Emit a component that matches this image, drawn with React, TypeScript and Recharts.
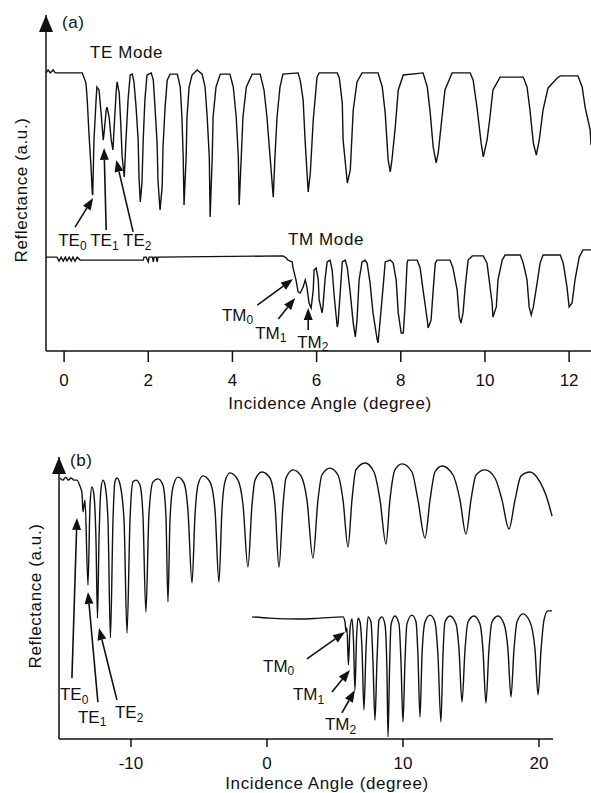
import React from 'react';
import { LineChart, Line, XAxis, YAxis, ReferenceLine, ReferenceDot } from 'recharts';

type P = [number, number];

// ---------- Panel (a): incidence angle (deg) vs reflectance (a.u.) ----------
const teModeA: P[] = [
  [-0.43,92.7],[-0.38,93.7],[-0.33,92.7],[-0.26,93.7],[-0.21,92.7],[0.43,92.7],[0.45,92.0],[0.52,89.3],[0.55,83.7],[0.59,72.7],[0.64,61.3],[0.67,52.7],[0.68,52.0],[0.71,70.3],[0.76,83.7],[0.78,88.0],[0.83,87.0],[0.88,79.3],[0.93,70.3],[0.95,72.7],[1.00,80.3],[1.02,81.3],[1.07,78.0],[1.12,70.3],[1.16,67.0],[1.19,74.7],[1.24,87.0],[1.26,89.7],[1.31,86.0],[1.35,74.7],[1.38,64.7],[1.43,58.0],[1.47,70.3],[1.52,83.7],[1.57,92.0],[1.62,92.3],[1.66,89.7],[1.71,81.3],[1.76,70.3],[1.78,58.0],[1.81,49.7],[1.85,56.0],[1.88,70.3],[1.92,83.7],[1.97,92.0],[2.07,92.7],[2.12,90.3],[2.16,81.3],[2.21,69.3],[2.23,57.0],[2.28,47.0],[2.33,54.7],[2.35,68.0],[2.40,81.3],[2.45,90.3],[2.52,92.3],[2.69,92.3],[2.76,88.0],[2.80,78.0],[2.83,64.7],[2.85,48.7],[2.90,64.7],[2.92,78.0],[2.97,88.0],[3.04,92.0],[3.16,93.7],[3.28,92.3],[3.35,88.0],[3.40,78.0],[3.45,64.7],[3.47,44.7],[3.52,64.7],[3.54,78.0],[3.61,88.0],[3.71,92.3],[3.94,92.3],[4.02,88.0],[4.09,78.0],[4.14,64.7],[4.16,48.7],[4.21,64.7],[4.25,78.0],[4.33,88.0],[4.47,92.3],[4.66,92.3],[4.75,87.0],[4.82,78.0],[4.90,63.7],[4.97,51.3],[5.01,64.7],[5.06,78.0],[5.13,88.0],[5.20,92.3],[5.56,92.7],[5.61,90.3],[5.68,83.7],[5.73,69.3],[5.80,53.0],[5.85,59.3],[5.92,77.0],[6.01,91.3],[6.06,92.7],[6.49,92.7],[6.54,91.0],[6.61,82.7],[6.63,70.3],[6.73,56.0],[6.80,60.3],[6.87,80.3],[6.96,89.7],[7.08,92.7],[7.46,92.7],[7.56,88.0],[7.63,79.3],[7.70,63.7],[7.75,59.7],[7.79,63.7],[7.87,74.7],[7.94,87.0],[8.06,92.0],[8.53,92.7],[8.63,88.0],[8.70,79.3],[8.77,68.0],[8.84,62.7],[8.89,66.0],[8.98,78.0],[9.05,87.0],[9.22,92.7],[9.65,92.7],[9.72,90.3],[9.81,81.3],[9.91,69.3],[9.96,64.7],[10.05,70.3],[10.12,78.0],[10.19,87.0],[10.36,91.3],[10.91,91.3],[11.00,88.0],[11.07,80.3],[11.15,69.3],[11.22,65.3],[11.29,70.3],[11.38,80.3],[11.50,87.7],[11.72,91.0],[11.79,91.7],[12.21,91.7],[12.31,88.0],[12.38,81.3],[12.50,73.7],[12.52,68.7],
];

const tmModeA: P[] = [
  [-0.43,31.3],[-0.17,31.3],[-0.12,30.0],[-0.07,31.3],[-0.02,30.0],[0.03,31.3],[0.07,30.0],[0.12,31.3],[0.17,30.0],[0.21,31.3],[0.26,30.0],[0.31,31.3],[0.38,30.3],[1.88,30.3],[1.90,31.3],[1.95,31.3],[2.00,29.7],[2.02,31.3],[2.10,31.3],[2.12,29.7],[2.14,31.3],[2.19,31.3],[2.21,29.7],[2.23,31.3],[5.20,31.7],[5.28,31.0],[5.32,30.3],[5.42,29.7],[5.44,27.7],[5.51,23.7],[5.56,19.7],[5.61,19.3],[5.68,21.3],[5.73,23.7],[5.77,21.3],[5.82,16.0],[5.87,14.3],[5.92,20.3],[5.94,27.0],[5.99,27.7],[6.04,23.7],[6.06,17.0],[6.13,12.7],[6.15,14.7],[6.20,23.7],[6.25,29.7],[6.32,30.3],[6.37,27.0],[6.42,18.0],[6.49,8.0],[6.51,9.3],[6.56,19.3],[6.61,29.7],[6.68,30.3],[6.73,27.7],[6.80,19.3],[6.87,9.3],[6.92,4.7],[6.96,10.3],[7.01,23.7],[7.08,29.7],[7.15,30.3],[7.20,29.3],[7.27,22.7],[7.34,12.7],[7.44,3.7],[7.46,2.7],[7.51,10.3],[7.58,21.3],[7.63,29.7],[7.75,30.3],[7.82,29.3],[7.89,23.7],[7.94,12.7],[8.01,6.0],[8.06,6.0],[8.10,14.7],[8.15,29.3],[8.17,30.3],[8.39,30.3],[8.46,27.7],[8.53,20.3],[8.63,10.3],[8.65,7.7],[8.72,10.3],[8.77,20.3],[8.82,29.3],[8.86,30.3],[9.17,30.3],[9.24,27.7],[9.34,20.3],[9.39,11.3],[9.43,9.3],[9.48,12.7],[9.53,21.3],[9.60,30.3],[9.70,31.7],[9.96,31.7],[10.05,29.3],[10.10,23.7],[10.17,16.0],[10.19,11.3],[10.27,14.7],[10.31,23.7],[10.41,30.3],[10.48,32.0],[10.84,32.0],[10.91,29.3],[11.00,23.7],[11.05,14.7],[11.10,12.0],[11.15,14.7],[11.24,22.7],[11.31,29.3],[11.38,32.0],[11.79,32.0],[11.86,29.3],[11.95,21.3],[12.00,14.7],[12.07,16.0],[12.14,23.7],[12.24,31.3],[12.33,33.7],[12.52,33.7],
];

// ---------- Panel (b) ----------
const teModeB: P[] = [
  [-15.22,87.0],[-15.0,86.3],[-14.8,87.3],[-14.6,86.3],[-14.4,87.0],[-14.2,86.3],[-13.97,86.3],[-13.75,84.3],[-13.60,82.0],[-13.53,75.7],[-13.38,79.7],[-13.16,51.3],[-13.01,78.0],[-12.87,84.0],[-12.72,81.3],[-12.57,66.3],[-12.46,40.3],[-12.35,66.3],[-12.21,83.0],[-12.06,86.3],[-11.91,84.7],[-11.69,73.0],[-11.51,33.7],[-11.32,73.0],[-11.18,85.7],[-11.03,87.0],[-10.81,85.0],[-10.51,73.0],[-10.29,35.3],[-10.07,73.0],[-9.85,85.7],[-9.63,86.3],[-9.34,84.7],[-9.12,74.7],[-8.90,42.3],[-8.68,74.7],[-8.38,85.7],[-8.01,86.7],[-7.65,84.7],[-7.43,74.7],[-7.28,45.7],[-7.13,73.0],[-6.91,84.0],[-6.54,87.3],[-6.10,85.3],[-5.81,76.3],[-5.51,52.0],[-5.29,74.7],[-5.07,84.7],[-4.71,87.7],[-4.19,85.7],[-3.82,76.3],[-3.53,52.3],[-3.31,76.3],[-3.09,85.7],[-2.72,88.7],[-2.13,86.3],[-1.76,78.0],[-1.40,57.3],[-1.10,78.0],[-0.88,86.3],[-0.37,89.0],[0.22,87.0],[0.59,78.0],[0.88,57.3],[1.18,78.0],[1.40,87.0],[1.91,89.7],[2.50,87.7],[2.94,79.7],[3.38,60.3],[3.75,79.7],[4.04,88.0],[4.63,90.3],[5.22,88.0],[5.59,79.7],[5.96,64.0],[6.25,79.7],[6.54,89.7],[7.21,92.0],[7.87,89.0],[8.31,79.7],[8.75,65.0],[9.04,79.7],[9.41,89.7],[9.93,91.7],[10.66,89.0],[11.10,79.7],[11.62,67.0],[11.99,79.7],[12.35,89.0],[12.87,91.0],[13.68,88.0],[14.19,79.7],[14.63,68.3],[15.00,79.7],[15.37,88.0],[16.03,89.7],[16.76,87.0],[17.28,79.7],[17.79,70.0],[18.24,79.7],[18.68,87.7],[19.34,89.0],[20.07,85.7],[20.51,81.3],[20.96,74.3],
];

const tmModeB: P[] = [
  [-1.10,40.7],[0.22,40.3],[2.43,40.0],[3.90,40.3],[5.59,40.7],[5.74,39.0],[5.81,35.7],[5.88,37.0],[5.99,24.7],[6.10,36.3],[6.25,40.0],[6.36,33.0],[6.47,16.3],[6.58,33.0],[6.69,40.3],[6.84,39.0],[6.99,29.7],[7.13,9.7],[7.28,29.7],[7.43,40.7],[7.65,39.0],[7.79,26.3],[7.94,6.3],[8.09,26.3],[8.24,39.7],[8.46,40.7],[8.68,38.0],[8.82,23.0],[8.90,0.7],[9.01,23.0],[9.12,38.0],[9.41,41.0],[9.71,38.3],[9.85,26.3],[10.00,5.7],[10.15,26.3],[10.29,38.3],[10.66,41.3],[10.96,39.0],[11.10,28.0],[11.25,7.3],[11.40,28.0],[11.62,39.0],[11.99,41.3],[12.35,39.0],[12.57,28.0],[12.79,5.7],[12.94,28.0],[13.09,39.0],[13.46,41.0],[13.90,38.3],[14.12,29.7],[14.34,12.3],[14.56,29.7],[14.78,39.0],[15.22,41.0],[15.66,38.3],[15.88,29.7],[16.10,12.0],[16.32,29.7],[16.54,39.0],[16.99,41.0],[17.43,38.3],[17.72,29.7],[17.94,14.0],[18.16,29.7],[18.38,39.0],[18.82,41.7],[19.34,39.0],[19.71,29.7],[19.93,14.7],[20.15,29.7],[20.37,39.7],[20.66,42.7],[20.96,42.7],
];

const xTicksA = [0, 2, 4, 6, 8, 10, 12];
const xTicksB = [-10, 0, 10, 20];
const xDomainA: P = [-0.43, 12.52];
const yDomainA: P = [0, 112];
const xDomainB: P = [-15.29, 21.03];
const yDomainB: P = [0, 94];

type Arrow = { from: P; to: P };
type Note = { at: P; main: string; sub: string };

const arrowsA: Arrow[] = [
  { from: [0.26, 41.3], to: [0.69, 51.0] },
  { from: [1.0, 40.3], to: [0.95, 67.7] },
  { from: [1.64, 39.7], to: [1.24, 63.7] },
  { from: [4.59, 15.3], to: [5.44, 24.0] },
  { from: [5.09, 10.7], to: [5.49, 17.7] },
  { from: [5.8, 7.0], to: [5.8, 14.3] },
];
const notesA: Note[] = [
  { at: [-0.14, 36.7], main: 'TE', sub: '0' },
  { at: [0.62, 36.7], main: 'TE', sub: '1' },
  { at: [1.4, 36.7], main: 'TE', sub: '2' },
  { at: [3.75, 12.0], main: 'TM', sub: '0' },
  { at: [4.54, 6.0], main: 'TM', sub: '1' },
  { at: [5.54, 3.0], main: 'TM', sub: '2' },
];
const arrowsB: Arrow[] = [
  { from: [-14.34, 20.3], to: [-13.97, 73.7] },
  { from: [-12.43, 12.3], to: [-13.16, 49.0] },
  { from: [-11.03, 13.0], to: [-12.35, 37.0] },
  { from: [2.94, 26.7], to: [5.74, 35.7] },
  { from: [4.78, 15.7], to: [6.1, 23.0] },
  { from: [5.51, 8.7], to: [6.47, 16.3] },
];
const notesB: Note[] = [
  { at: [-15.22, 14.7], main: 'TE', sub: '0' },
  { at: [-13.9, 7.3], main: 'TE', sub: '1' },
  { at: [-11.18, 8.7], main: 'TE', sub: '2' },
  { at: [-0.29, 24.3], main: 'TM', sub: '0' },
  { at: [1.91, 14.7], main: 'TM', sub: '1' },
  { at: [4.26, 4.7], main: 'TM', sub: '2' },
];

const FONT = '"Liberation Sans", Arial, Helvetica, sans-serif';
const INK = '#111';
const FS = 17;

const rows = (pts: P[]) => pts.map(([x, y]) => ({ x, y }));

const ArrowShape = (props: any) => {
  const { x1, y1, x2, y2 } = props;
  const dx = x2 - x1;
  const dy = y2 - y1;
  const len = Math.hypot(dx, dy) || 1;
  const ux = dx / len;
  const uy = dy / len;
  const hl = 12;
  const hw = 4.5;
  const bx = x2 - ux * hl;
  const by = y2 - uy * hl;
  const px = -uy;
  const py = ux;
  return (
    <g>
      <line x1={x1} y1={y1} x2={bx} y2={by} stroke={INK} strokeWidth={1.6} />
      <polygon points={`${x2},${y2} ${bx + px * hw},${by + py * hw} ${bx - px * hw},${by - py * hw}`} fill={INK} />
    </g>
  );
};

const noteShape = (n: Note) => (p: any) => (
  <text x={p.cx} y={p.cy} fontFamily={FONT} fontSize={FS} fill={INK} dominantBaseline="central">
    {n.main}
    <tspan dy={5} fontSize={12}>{n.sub}</tspan>
  </text>
);

const axisArrow = (p: any) => (
  <polygon points={`${p.cx},${p.cy} ${p.cx - 7},${p.cy + 17} ${p.cx + 7},${p.cy + 17}`} fill={INK} />
);

const axisStyle = { stroke: INK, strokeWidth: 1.5 };
const tickStyle = { fontSize: FS, fontFamily: FONT, fill: INK };

function Panel(props: {
  width: number; height: number; margin: any; yWidth: number;
  xDomain: P; yDomain: P; ticks: number[]; tickSize: number; tickMargin: number;
  te: P[]; tm: P[]; arrows: Arrow[]; notes: Note[]; curve: 'linear' | 'monotone';
}) {
  const { xDomain, yDomain } = props;
  return (
    <LineChart width={props.width} height={props.height} margin={props.margin}>
      <XAxis
        type="number"
        dataKey="x"
        domain={xDomain}
        allowDataOverflow
        ticks={props.ticks}
        height={30}
        tickSize={props.tickSize}
        tickMargin={props.tickMargin}
        axisLine={axisStyle}
        tickLine={axisStyle}
        tick={tickStyle}
      />
      <YAxis type="number" dataKey="y" domain={yDomain} allowDataOverflow width={props.yWidth} tick={false} tickLine={false} axisLine={axisStyle} />
      <Line data={rows(props.te)} dataKey="y" type={props.curve} stroke={INK} strokeWidth={1.4} dot={false} isAnimationActive={false} />
      <Line data={rows(props.tm)} dataKey="y" type={props.curve} stroke={INK} strokeWidth={1.4} dot={false} isAnimationActive={false} />
      {props.arrows.map((a, i) => (
        <ReferenceLine
          key={'ar' + i}
          segment={[{ x: a.from[0], y: a.from[1] }, { x: a.to[0], y: a.to[1] }]}
          ifOverflow="visible"
          shape={ArrowShape}
        />
      ))}
      {props.notes.map((n, i) => (
        <ReferenceDot key={'nt' + i} x={n.at[0]} y={n.at[1]} r={0} ifOverflow="visible" shape={noteShape(n)} />
      ))}
      <ReferenceDot x={xDomain[0]} y={yDomain[1]} r={0} ifOverflow="visible" shape={axisArrow} />
    </LineChart>
  );
}

export default function App() {
  const textProps = { fontFamily: FONT, fontSize: FS, fill: INK, dominantBaseline: 'central' as const, letterSpacing: 0.6 };
  return (
    <div style={{ position: 'absolute', left: 0, top: 0, width: 591, height: 793, background: '#fff' }}>
      <div style={{ position: 'absolute', left: 0, top: 0 }}>
        <Panel
          width={591} height={400} margin={{ top: 15, right: 0, bottom: 19, left: 0 }} yWidth={46}
          xDomain={xDomainA} yDomain={yDomainA} ticks={xTicksA} tickSize={11} tickMargin={12}
          te={teModeA} tm={tmModeA} arrows={arrowsA} notes={notesA} curve="linear"
        />
      </div>
      <div style={{ position: 'absolute', left: 0, top: 400 }}>
        <Panel
          width={591} height={393} margin={{ top: 57, right: 38, bottom: 24, left: 0 }} yWidth={59}
          xDomain={xDomainB} yDomain={yDomainB} ticks={xTicksB} tickSize={8} tickMargin={10}
          te={teModeB} tm={tmModeB} arrows={arrowsB} notes={notesB} curve="monotone"
        />
      </div>
      <svg style={{ position: 'absolute', left: 0, top: 0, pointerEvents: 'none' }} width={591} height={793}>
        <text x={62} y={22} {...textProps}>(a)</text>
        <text x={90} y={52} {...textProps}>TE Mode</text>
        <text x={288} y={239} {...textProps}>TM Mode</text>
        <text x={330} y={403} textAnchor="middle" {...textProps}>Incidence Angle (degree)</text>
        <text x={21} y={190} textAnchor="middle" transform="rotate(-90 21 190)" {...textProps}>Reflectance (a.u.)</text>
        <text x={70} y={460} {...textProps}>(b)</text>
        <text x={327} y={783} textAnchor="middle" {...textProps}>Incidence Angle (degree)</text>
        <text x={35} y={596} textAnchor="middle" transform="rotate(-90 35 596)" {...textProps}>Reflectance (a.u.)</text>
      </svg>
    </div>
  );
}
